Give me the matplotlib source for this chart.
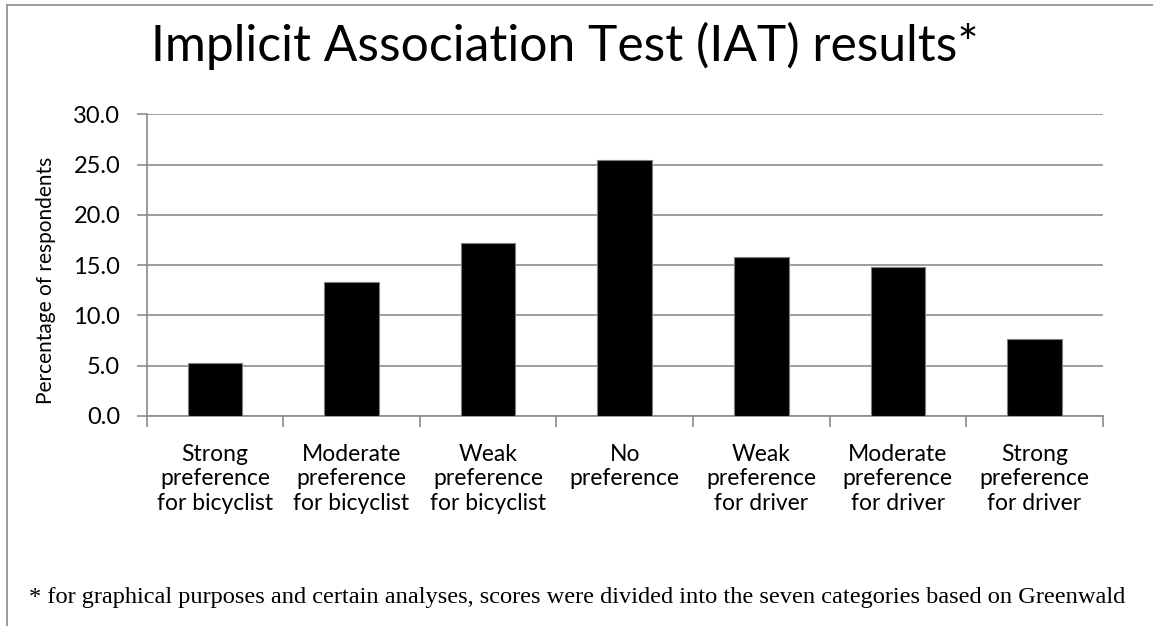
import matplotlib
matplotlib.use("Agg")
import matplotlib.pyplot as plt
from matplotlib.lines import Line2D

categories = [
    "Strong\npreference\nfor bicyclist",
    "Moderate\npreference\nfor bicyclist",
    "Weak\npreference\nfor bicyclist",
    "No\npreference",
    "Weak\npreference\nfor driver",
    "Moderate\npreference\nfor driver",
    "Strong\npreference\nfor driver",
]
values = [5.3, 13.35, 17.2, 25.5, 15.85, 14.8, 7.7]
yticks = [0, 5, 10, 15, 20, 25, 30]
ytick_labels = ["0.0", "5.0", "10.0", "15.0", "20.0", "25.0", "30.0"]

W, H = 1153, 626
fig = plt.figure(figsize=(W / 100, H / 100), dpi=100)
fig.patch.set_facecolor("white")

sans = ["Lato", "DejaVu Sans"]
grid_c = "#8c8c8c"

ax = fig.add_axes([146.7 / W, 1 - 416 / H, (1102.7 - 146.7) / W, (416 - 114.3) / H])
x = list(range(len(categories)))
ax.bar(x, values, width=0.4, color="black", edgecolor="#7f7f7f", linewidth=0.8, zorder=3)
ax.set_xlim(-0.5, len(categories) - 0.5)
ax.set_ylim(0, 30)
ax.set_yticks(yticks)
ax.set_yticklabels(ytick_labels, fontsize=17, family=sans)
ax.yaxis.grid(True, color=grid_c, linewidth=1.2, zorder=0)
ax.set_axisbelow(True)

ax.set_xticks([i + 0.5 for i in range(-1, len(categories))])
ax.set_xticklabels([])
ax.set_xticks(x, minor=True)
ax.set_xticklabels(categories, minor=True, fontsize=16.5, family=sans, linespacing=1.2)
ax.tick_params(axis="x", which="minor", length=0, pad=20)
ax.tick_params(axis="x", which="major", length=8, color=grid_c, width=1.2)
ax.tick_params(axis="y", length=7, color=grid_c, width=1.2, pad=12)

for s in ["top", "right"]:
    ax.spines[s].set_visible(False)
for s in ["left", "bottom"]:
    ax.spines[s].set_color(grid_c)
    ax.spines[s].set_linewidth(1.2)

ax.set_ylabel("Percentage of respondents", fontsize=15, family=sans, va="center")
ax.yaxis.set_label_coords((46 - 146.7) / 956, (416 - 280) / 301.7)

fig.text(565 / W, 1 - 46 / H, "Implicit Association Test (IAT) results*",
         ha="center", va="center", fontsize=35.8, family=sans)

fig.text(577 / W, 1 - 598 / H,
         "* for graphical purposes and certain analyses, scores were divided into the seven categories based on Greenwald",
         ha="center", va="center", fontsize=17.6, family=["Liberation Serif", "DejaVu Serif"])

fig.add_artist(Line2D([7 / W, 1], [1 - 5 / H, 1 - 5 / H], color=grid_c, linewidth=1.2, transform=fig.transFigure))
fig.add_artist(Line2D([7 / W, 7 / W], [0, 1 - 5 / H], color=grid_c, linewidth=1.2, transform=fig.transFigure))

fig.savefig("out.png", dpi=100, facecolor="white")
